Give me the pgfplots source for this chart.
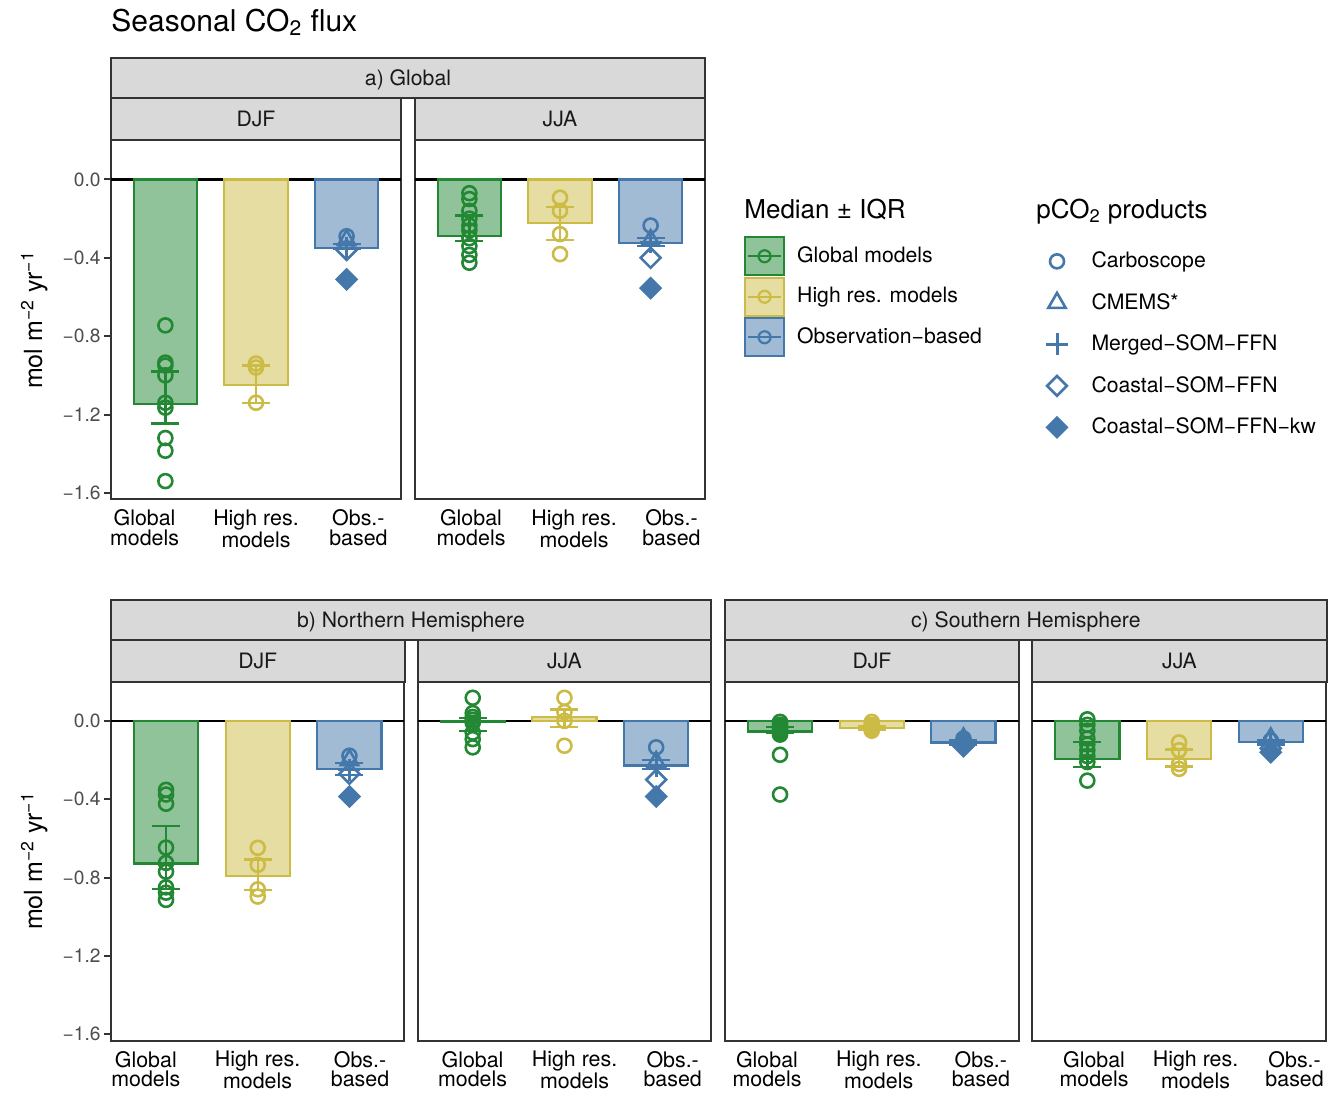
\documentclass[border=0pt]{standalone}
\usepackage{pgfplots}
\pgfplotsset{compat=1.18}
\usepackage{fontspec}
\setmainfont{TeX Gyre Heros}

\definecolor{cgreen}{HTML}{228833}
\definecolor{cyellow}{HTML}{CCBB44}
\definecolor{cblue}{HTML}{4477AA}
\definecolor{framec}{HTML}{333333}
\definecolor{stripc}{HTML}{D9D9D9}
\definecolor{tickc}{HTML}{4D4D4D}

\pgfplotsset{
  panel/.style={
    scale only axis, anchor=south west,
    width=145pt, height=179.5pt,
    xmin=0.4, xmax=3.6, ymin=-1.633, ymax=0.2,
    axis line style={draw=framec, line width=1pt},
    xticklabels={Global\\models, High res.\\models, Obs.-\\based},
    xtick style={draw=none},
    xticklabel style={align=center, font=\fontsize{10.7}{9.7}\selectfont, text=black, inner sep=0pt, anchor=north, yshift=-1.5pt},
    ytick={-1.6,-1.2,-0.8,-0.4,0},
    yticklabels={−1.6,−1.2,−0.8,−0.4,0.0},
    ytick pos=left,
    ytick style={draw=framec, line width=1pt},
    tick align=outside, major tick length=3.5pt,
    yticklabel style={font=\fontsize{9.6}{10}\selectfont, text=tickc, inner sep=0pt, anchor=east, xshift=-1.5pt},
  },
  wide/.style={width=146.75pt},
  noy/.style={ytick=\empty},
  zero/.style={black, line width=1.3pt},
  barsty/.style={ybar, bar width=0.7, bar shift=0pt, draw=#1, fill=#1, fill opacity=0.5, line width=1.1pt},
  errsty/.style={#1, line width=1.2pt, mark=-, mark size=7pt},
  ptsty/.style={#1, only marks, mark=o, mark size=3.5pt, line width=1.3pt},
  p1/.style={cblue, only marks, mark=o, mark size=3.5pt, line width=1.3pt},
  p2/.style={cblue, only marks, mark=triangle, mark size=5pt, line width=1.3pt},
  p3/.style={cblue, only marks, mark=+, mark size=5.5pt, line width=1.5pt},
  p4/.style={cblue, only marks, mark=square, mark size=3.5pt, mark options={rotate=45}, line width=1.3pt},
  p5/.style={cblue, only marks, mark=square*, mark size=3.6pt, mark options={rotate=45, fill=cblue}, line width=1pt},
  medkey/.style={legend image code/.code={
      \draw[draw=#1, fill=#1, fill opacity=0.5, line width=1.1pt] (0pt,-9.5pt) rectangle (19.5pt,9.5pt);
      \draw[#1, line width=1.1pt] (1.5pt,0pt) -- (18pt,0pt);
      \draw[#1, line width=1.1pt] (9.75pt,0pt) circle (3pt);}},
}

\newcommand{\stripbox}[5]{%
  \draw[fill=stripc, draw=framec, line width=1pt] (#1,#2) rectangle (#3,#4);
  \node[font=\fontsize{10.6}{12}\selectfont, text=black!90, anchor=base, inner sep=0pt]
    at ({(#1+#3)/2},{(#2+#4)/2+7.5}) {#5};}

\begin{document}
\begin{tikzpicture}
\path[use as bounding box] (0pt,0pt) rectangle (667pt,-547pt);

% ---- a) Global, DJF
\begin{axis}[panel, at={(55.5pt,-249.65pt)}, xtick={0.77,2,3.13}]
\addplot[zero] coordinates {(0.4,0) (3.6,0)};
\addplot[barsty=cgreen] coordinates {(1,-1.146)};
\addplot[barsty=cyellow] coordinates {(2,-1.05)};
\addplot[barsty=cblue] coordinates {(3,-0.348)};
\addplot[errsty=cgreen] coordinates {(1,-1.245) (1,-0.98)};
\addplot[errsty=cyellow] coordinates {(2,-1.14) (2,-0.95)};
\addplot[errsty=cblue] coordinates {(3,-0.352) (3,-0.330)};
\addplot[ptsty=cgreen] coordinates {(1,-0.745) (1,-0.935) (1,-0.95) (1,-1.00) (1,-1.14) (1,-1.165) (1,-1.32) (1,-1.385) (1,-1.54)};
\addplot[ptsty=cyellow] coordinates {(2,-0.94) (2,-0.96) (2,-1.14)};
\addplot[p1] coordinates {(3,-0.29)};
\addplot[p2] coordinates {(3,-0.31)};
\addplot[p3] coordinates {(3,-0.35)};
\addplot[p4] coordinates {(3,-0.36)};
\addplot[p5] coordinates {(3,-0.51)};
\end{axis}

% ---- a) Global, JJA
\begin{axis}[panel, noy, at={(207.5pt,-249.65pt)}, xtick={1.018,2.155,3.23}]
\addplot[zero] coordinates {(0.4,0) (3.6,0)};
\addplot[barsty=cgreen] coordinates {(1,-0.288)};
\addplot[barsty=cyellow] coordinates {(2,-0.224)};
\addplot[barsty=cblue] coordinates {(3,-0.325)};
\addplot[errsty=cgreen] coordinates {(1,-0.313) (1,-0.183)};
\addplot[errsty=cyellow] coordinates {(2,-0.308) (2,-0.142)};
\addplot[errsty=cblue] coordinates {(3,-0.339) (3,-0.300)};
\addplot[ptsty=cgreen] coordinates {(1,-0.07) (1,-0.10) (1,-0.16) (1,-0.20) (1,-0.235) (1,-0.26) (1,-0.30) (1,-0.34) (1,-0.385) (1,-0.425)};
\addplot[ptsty=cyellow] coordinates {(2,-0.093) (2,-0.16) (2,-0.279) (2,-0.381)};
\addplot[p1] coordinates {(3,-0.235)};
\addplot[p2] coordinates {(3,-0.31)};
\addplot[p3] coordinates {(3,-0.32)};
\addplot[p4] coordinates {(3,-0.40)};
\addplot[p5] coordinates {(3,-0.555)};
\end{axis}

% ---- b) Northern Hemisphere, DJF
\begin{axis}[panel, wide, at={(55.5pt,-520.35pt)}, xtick={0.78,1.998,3.115}]
\addplot[zero] coordinates {(0.4,0) (3.6,0)};
\addplot[barsty=cgreen] coordinates {(1,-0.728)};
\addplot[barsty=cyellow] coordinates {(2,-0.792)};
\addplot[barsty=cblue] coordinates {(3,-0.247)};
\addplot[errsty=cgreen] coordinates {(1,-0.858) (1,-0.538)};
\addplot[errsty=cyellow] coordinates {(2,-0.863) (2,-0.708)};
\addplot[errsty=cblue] coordinates {(3,-0.276) (3,-0.215)};
\addplot[ptsty=cgreen] coordinates {(1,-0.352) (1,-0.376) (1,-0.423) (1,-0.647) (1,-0.725) (1,-0.77) (1,-0.85) (1,-0.877) (1,-0.914)};
\addplot[ptsty=cyellow] coordinates {(2,-0.648) (2,-0.735) (2,-0.86) (2,-0.897)};
\addplot[p1] coordinates {(3,-0.178)};
\addplot[p2] coordinates {(3,-0.20)};
\addplot[p3] coordinates {(3,-0.25)};
\addplot[p4] coordinates {(3,-0.27)};
\addplot[p5] coordinates {(3,-0.386)};
\end{axis}

% ---- b) Northern Hemisphere, JJA
\begin{axis}[panel, wide, noy, at={(208.85pt,-520.35pt)}, xtick={0.998,2.11,3.18}]
\addplot[zero] coordinates {(0.4,0) (3.6,0)};
\addplot[barsty=cgreen] coordinates {(1,-0.003)};
\addplot[barsty=cyellow] coordinates {(2,0.02)};
\addplot[barsty=cblue] coordinates {(3,-0.228)};
\addplot[errsty=cgreen] coordinates {(1,-0.052) (1,0.014)};
\addplot[errsty=cyellow] coordinates {(2,-0.03) (2,0.059)};
\addplot[errsty=cblue] coordinates {(3,-0.245) (3,-0.20)};
\addplot[ptsty=cgreen] coordinates {(1,0.118) (1,0.04) (1,0.02) (1,0.005) (1,-0.01) (1,-0.06) (1,-0.093) (1,-0.135)};
\addplot[ptsty=cyellow] coordinates {(2,0.118) (2,0.045) (2,0.0) (2,-0.127)};
\addplot[p1] coordinates {(3,-0.135)};
\addplot[p2] coordinates {(3,-0.21)};
\addplot[p3] coordinates {(3,-0.23)};
\addplot[p4] coordinates {(3,-0.30)};
\addplot[p5] coordinates {(3,-0.386)};
\end{axis}

% ---- c) Southern Hemisphere, DJF
\begin{axis}[panel, wide, noy, at={(362.5pt,-520.35pt)}, xtick={0.858,2.076,3.19}]
\addplot[zero] coordinates {(0.4,0) (3.6,0)};
\addplot[barsty=cgreen] coordinates {(1,-0.054)};
\addplot[barsty=cyellow] coordinates {(2,-0.037)};
\addplot[barsty=cblue] coordinates {(3,-0.11)};
\addplot[errsty=cgreen] coordinates {(1,-0.06) (1,-0.03)};
\addplot[errsty=cyellow] coordinates {(2,-0.045) (2,-0.025)};
\addplot[errsty=cblue] coordinates {(3,-0.12) (3,-0.10)};
\addplot[ptsty=cgreen] coordinates {(1,-0.005) (1,-0.02) (1,-0.03) (1,-0.04) (1,-0.05) (1,-0.06) (1,-0.07) (1,-0.173) (1,-0.376)};
\addplot[ptsty=cyellow] coordinates {(2,-0.005) (2,-0.02) (2,-0.03) (2,-0.04) (2,-0.05)};
\addplot[p1] coordinates {(3,-0.09)};
\addplot[p2] coordinates {(3,-0.09)};
\addplot[p3] coordinates {(3,-0.11)};
\addplot[p4] coordinates {(3,-0.12)};
\addplot[p5] coordinates {(3,-0.13)};
\end{axis}

% ---- c) Southern Hemisphere, JJA
\begin{axis}[panel, wide, noy, at={(516.15pt,-520.35pt)}, xtick={1.073,2.18,3.26}]
\addplot[zero] coordinates {(0.4,0) (3.6,0)};
\addplot[barsty=cgreen] coordinates {(1,-0.195)};
\addplot[barsty=cyellow] coordinates {(2,-0.195)};
\addplot[barsty=cblue] coordinates {(3,-0.107)};
\addplot[errsty=cgreen] coordinates {(1,-0.235) (1,-0.107)};
\addplot[errsty=cyellow] coordinates {(2,-0.232) (2,-0.147)};
\addplot[errsty=cblue] coordinates {(3,-0.12) (3,-0.10)};
\addplot[ptsty=cgreen] coordinates {(1,0.008) (1,-0.02) (1,-0.05) (1,-0.09) (1,-0.12) (1,-0.15) (1,-0.18) (1,-0.21) (1,-0.305)};
\addplot[ptsty=cyellow] coordinates {(2,-0.11) (2,-0.15) (2,-0.22) (2,-0.245)};
\addplot[p1] coordinates {(3,-0.10)};
\addplot[p2] coordinates {(3,-0.09)};
\addplot[p3] coordinates {(3,-0.12)};
\addplot[p4] coordinates {(3,-0.14)};
\addplot[p5] coordinates {(3,-0.16)};
\end{axis}

% ---- legend: Median +- IQR
\begin{axis}[hide axis, scale only axis, width=10pt, height=10pt,
  xmin=0, xmax=1, ymin=0, ymax=1,
  at={(372pt,-118pt)}, anchor=north west,
  legend style={at={(0,1)}, anchor=north west, draw=none, fill=none,
    inner sep=0pt, outer sep=0pt, row sep=0pt, column sep=6pt,
    font=\fontsize{10.6}{12}\selectfont,
    nodes={inner sep=0pt, minimum height=20.25pt}},
  legend cell align=left]
\addlegendimage{medkey=cgreen}\addlegendentry{Global models}
\addlegendimage{medkey=cyellow}\addlegendentry{High res. models}
\addlegendimage{medkey=cblue}\addlegendentry{Observation−based}
\end{axis}

% ---- legend: pCO2 products
\begin{axis}[hide axis, scale only axis, width=10pt, height=10pt,
  xmin=0, xmax=1, ymin=0, ymax=1,
  at={(523pt,-120.3pt)}, anchor=north west,
  legend style={at={(0,1)}, anchor=north west, draw=none, fill=none,
    inner sep=0pt, outer sep=0pt, row sep=0pt, column sep=11.75pt,
    font=\fontsize{10.6}{12}\selectfont,
    nodes={inner sep=0pt, minimum height=20.75pt}},
  legend cell align=left]
\addlegendimage{p1}\addlegendentry{Carboscope}
\addlegendimage{p2}\addlegendentry{CMEMS*}
\addlegendimage{p3}\addlegendentry{Merged−SOM−FFN}
\addlegendimage{p4}\addlegendentry{Coastal−SOM−FFN}
\addlegendimage{p5}\addlegendentry{Coastal−SOM−FFN−kw}
\end{axis}

\begin{scope}[x=0.5pt, y=-0.5pt]
\stripbox{111}{58}{705}{98}{a) Global}
\stripbox{111}{98}{401}{140}{DJF}
\stripbox{415}{98}{705}{140}{JJA}
\stripbox{111}{600}{711}{640}{b) Northern Hemisphere}
\stripbox{111}{640}{404.5}{681.7}{DJF}
\stripbox{417.7}{640}{711}{681.7}{JJA}
\stripbox{725}{600}{1326.7}{640}{c) Southern Hemisphere}
\stripbox{725}{640}{1019}{681.7}{DJF}
\stripbox{1032.3}{640}{1326.7}{681.7}{JJA}

\node[anchor=base west, inner sep=0pt, font=\fontsize{15}{18}\selectfont] at (111,31) {Seasonal CO\textsubscript{2} flux};
\node[anchor=base west, inner sep=0pt, font=\fontsize{13}{15}\selectfont] at (744,218) {Median ± IQR};
\node[anchor=base west, inner sep=0pt, font=\fontsize{13}{15}\selectfont] at (1036,218) {pCO\textsubscript{2} products};

\node[rotate=90, anchor=base, inner sep=0pt, font=\fontsize{12.5}{15}\selectfont] at (42,320) {mol m\textsuperscript{−2} yr\textsuperscript{−1}};
\node[rotate=90, anchor=base, inner sep=0pt, font=\fontsize{12.5}{15}\selectfont] at (42,861) {mol m\textsuperscript{−2} yr\textsuperscript{−1}};
\end{scope}
\end{tikzpicture}
\end{document}
